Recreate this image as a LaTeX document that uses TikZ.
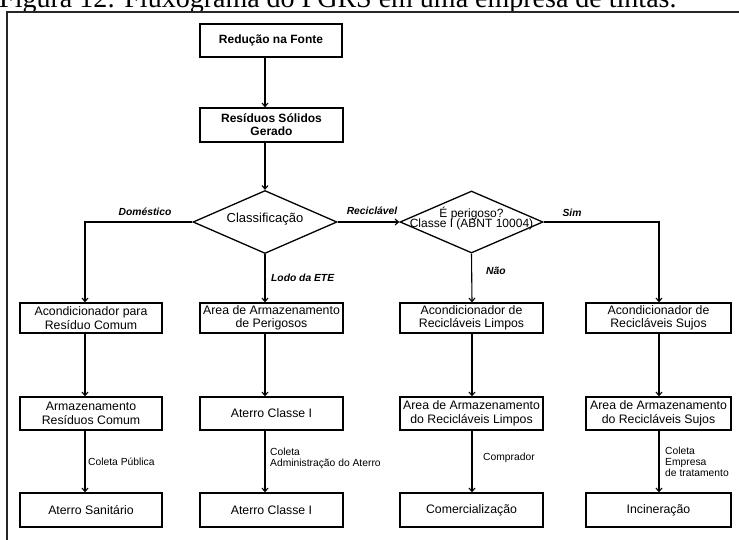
\documentclass[tikz,border=0pt]{standalone}
\usepackage{fontspec}
\setmainfont{Liberation Sans}
\newfontfamily\titlefont{Liberation Serif}
\usetikzlibrary{shapes.geometric,arrows.meta}
\begin{document}
\begin{tikzpicture}[x=1pt,y=-1pt,
  box/.style={draw=black, line width=1.3pt, inner sep=1pt, align=center,
    minimum width=143pt, font=\fontsize{12.3}{13.5}\selectfont},
  topbox/.style={box, font=\bfseries\fontsize{12}{13}\selectfont},
  dia/.style={draw=black, diamond, line width=1.3pt, inner sep=0pt},
  arr/.style={draw=black, line width=1.1pt, -{Straight Barb[length=3.5pt,width=6pt]}},
  blab/.style={font=\bfseries\itshape\fontsize{10.3}{11}\selectfont, inner sep=0pt},
  elab/.style={font=\fontsize{10.3}{10.8}\selectfont, inner sep=0pt, anchor=west, align=left}
]
\clip (0,0) rectangle (739,539);
\fill[white] (0,0) rectangle (739,539);
% title
\node[anchor=base west, inner sep=0pt, font=\titlefont\fontsize{28}{30}\selectfont] (title) at (-1,7)
  {Figura 12: Fluxograma do PGRS em uma empresa de tintas.};
% frame
\coordinate (fbl) at (7,560);
\coordinate (ftl) at (7,12);
\coordinate (ftr) at (760,12);
\draw[line width=1.6pt, black!85] (fbl) -- (ftl) -- (ftr);
% column guides
\coordinate (c1) at (85,0);
\coordinate (c2) at (265,0);
\coordinate (c3) at (472,0);
\coordinate (c4) at (659,0);
% top
\node[topbox, minimum width=142pt, minimum height=33pt] (R1) at (271,40.5) {Redução na Fonte};
\node[topbox, minimum height=34pt] (R2) at (271.5,125) {Resíduos Sólidos\\Gerado};
% diamonds
\node[dia, minimum width=144pt, minimum height=63pt,
  font=\fontsize{13}{14}\selectfont] (D1) at (265,222)
  {\makebox[0pt]{\smash{Classificação}}};
\node[dia, minimum width=143pt, minimum height=62pt,
  font=\fontsize{12}{12}\selectfont] (D2) at (471.5,222)
  {\makebox[0pt]{\smash{\begin{tabular}{@{}c@{}}É perigoso?\\[-1.5pt]Classe I (ABNT 10004)\end{tabular}}}};
% row 1
\node[box, minimum width=142pt, minimum height=30pt] (A1) at (91,318) {Acondicionador para\\Resíduo Comum};
\node[box, minimum height=30pt] (A2) at (271.5,318) {Area de Armazenamento\\de Perigosos};
\node[box, minimum height=30pt] (A3) at (471.5,318) {Acondicionador de\\Recicláveis Limpos};
\node[box, minimum width=145pt, minimum height=30pt] (A4) at (658.5,318) {Acondicionador de\\Recicláveis Sujos};
% row 2
\node[box, minimum width=142pt, minimum height=33pt] (B1) at (91,413.5) {Armazenamento\\Resíduos Comum};
\node[box, minimum height=33pt] (B2) at (271.5,413.5) {Aterro Classe I};
\node[box, minimum height=33pt] (B3) at (471.5,413.5) {Area de Armazenamento\\do Recicláveis Limpos};
\node[box, minimum width=145pt, minimum height=33pt] (B4) at (658.5,413.5) {Area de Armazenamento\\do Recicláveis Sujos};
% row 3
\node[box, minimum width=142pt, minimum height=34pt] (C1) at (91,510) {Aterro Sanitário};
\node[box, minimum height=34pt] (C2) at (271.5,510) {Aterro Classe I};
\node[box, minimum height=34pt] (C3) at (471.5,510) {Comercialização};
\node[box, minimum width=145pt, minimum height=34pt] (C4) at (658.5,510) {Incineração};
% top connectors
\draw[arr] (c2 |- R1.south) -- (c2 |- R2.north);
\draw[arr] (c2 |- R2.south) -- (D1.north);
% diamond branches
\draw[arr] (D1.west) -| (c1 |- A1.north);
\draw[arr] (D1.south) -- (c2 |- A2.north);
\draw[arr] (D1.east) -- (D2.west);
\draw[arr] (D2.south) -- (c3 |- A3.north);
\draw[arr] (D2.east) -| (c4 |- A4.north);
% columns
\draw[arr] (c1 |- A1.south) -- (c1 |- B1.north);
\draw[arr] (c2 |- A2.south) -- (c2 |- B2.north);
\draw[arr] (c3 |- A3.south) -- (c3 |- B3.north);
\draw[arr] (c4 |- A4.south) -- (c4 |- B4.north);
\draw[arr] (c1 |- B1.south) -- (c1 |- C1.north);
\draw[arr] (c2 |- B2.south) -- (c2 |- C2.north);
\draw[arr] (c3 |- B3.south) -- (c3 |- C3.north);
\draw[arr] (c4 |- B4.south) -- (c4 |- C4.north);
% branch labels
\node[blab] (ldom) at (145,212) {Doméstico};
\node[blab] (lrec) at (372,211) {Reciclável};
\node[blab, anchor=west] (llodo) at (271,278) {Lodo da ETE};
\node[blab] (lsim) at (572,213) {Sim};
\node[blab, anchor=west] (lnao) at (486,271) {Não};
% edge labels
\node[elab] (l1) at (88,462) {Coleta Pública};
\node[elab] (l2) at (270,458) {Coleta\\Administração do Aterro};
\node[elab] (l3) at (483,458) {Comprador};
\node[elab] (l4) at (665,462) {Coleta\\Empresa\\de tratamento};
\end{tikzpicture}
\end{document}
